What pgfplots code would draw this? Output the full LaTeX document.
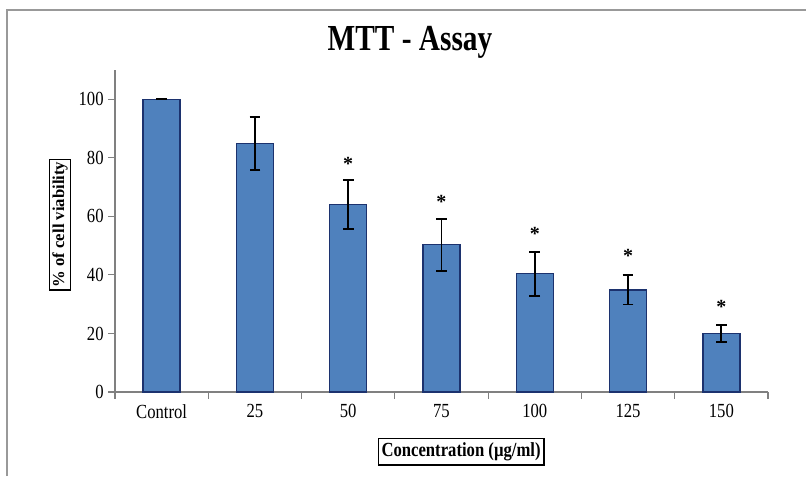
\documentclass[border=0pt]{standalone}
\usepackage{fontspec}
\setmainfont{Liberation Serif}
\usepackage{pgfplots}
\pgfplotsset{compat=1.18}
\definecolor{barblue}{RGB}{79,129,189}
\definecolor{baredge}{RGB}{28,50,110}
\begin{document}
\begin{tikzpicture}
\useasboundingbox (0,0) rectangle (604.5pt,357pt);
\draw[gray!80, line width=1.2pt] (5.25pt,0) -- (5.25pt,349.5pt) -- (604.5pt,349.5pt);
\node[font=\fontsize{22}{26}\selectfont\bfseries, yscale=1.25] at (307.5pt,325pt) {MTT - Assay};
\begin{axis}[
    at={(86.25pt,63pt)}, anchor=south west,
    scale only axis, width=489.75pt, height=241.5pt,
    xmin=-0.5, xmax=6.5, ymin=0, ymax=110,
    axis lines*=left,
    axis line style={gray, line width=0.8pt},
    ytick={0,20,...,100},
    xtick={0,...,6},
    xticklabels={Control,25,50,75,100,125,150},
    minor xtick={-0.5,0.5,...,6.5},
    major x tick style={draw=none},
    minor x tick style={gray, line width=0.8pt},
    y tick style={gray, line width=0.8pt},
    tick align=outside,
    major tick length=5pt, minor tick length=5pt,
    tick label style={font=\fontsize{12.5}{14}\selectfont, yscale=1.2},
    /pgf/number format/assume math mode=true,
    ylabel={\textbf{\% of cell viability}},
    ylabel style={draw=black, line width=1pt, inner sep=2pt, font=\fontsize{12.5}{14}\selectfont, at={(axis description cs:-0.084,0.52)}, anchor=center},
    xlabel={\textbf{Concentration (µg/ml)}},
    xlabel style={draw=black, line width=1pt, inner sep=2.5pt, font=\fontsize{12.5}{14}\selectfont, yscale=1.2, at={(axis description cs:0.53,-0.186)}, anchor=center},
    clip=false,
]
\addplot[ybar, bar width=27.75pt, fill=barblue, draw=baredge, line width=1pt,
    error bars/.cd, y dir=both, y explicit,
    error bar style={black, line width=1.3pt},
    error mark options={rotate=90, mark size=4pt, line width=1.3pt, black}]
coordinates {
    (0,100) +- (0,0)
    (1,84.9) +- (0,9.0)
    (2,64.0) +- (0,8.3)
    (3,50.3) +- (0,8.9)
    (4,40.4) +- (0,7.5)
    (5,34.9) +- (0,5.0)
    (6,19.9) +- (0,2.9)
};
\addplot[draw=none, mark=none,
    nodes near coords={\textbf{*}}, nodes near coords align={center},
    every node near coord/.append style={font=\fontsize{15}{15}\selectfont, anchor=center}]
coordinates {(2,77.8) (3,64.8) (4,54.1) (5,46.6) (6,29.1)};
\end{axis}
\end{tikzpicture}
\end{document}
